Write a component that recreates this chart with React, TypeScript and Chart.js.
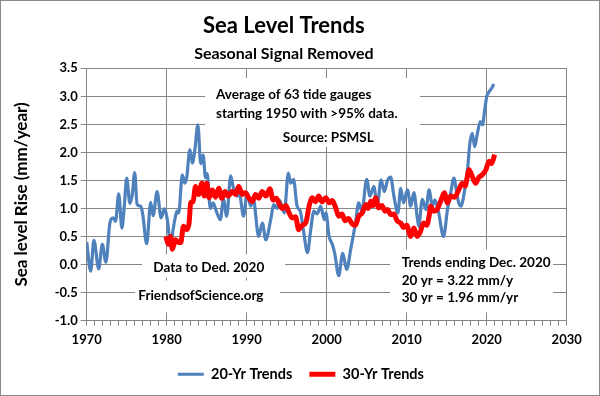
import React, { useEffect, useRef } from 'react';
import { Chart, registerables } from 'chart.js';

Chart.register(...registerables);

// ---- Data ----
const seriesNames = ['20-Yr Trends', '30-Yr Trends'];

const trend20Years = [
  1970.0, 1970.5, 1970.9, 1971.5, 1971.95, 1972.4, 1972.9, 1973.3, 1973.6, 1974.0,
  1974.4, 1974.7, 1975.0, 1975.4, 1975.7, 1976.0, 1976.3, 1976.75, 1977.0, 1977.5,
  1978.0, 1978.3, 1978.8, 1979.3, 1979.7, 1980.1, 1980.5, 1980.8, 1981.1, 1981.3,
  1981.5, 1981.95, 1982.25, 1982.5, 1982.9, 1983.2, 1983.5, 1983.9, 1984.25, 1984.55,
  1984.85, 1985.05, 1985.45, 1985.8, 1986.2, 1986.7, 1987.1, 1987.5, 1988.0, 1988.3,
  1988.75, 1989.1, 1989.6, 1990.05, 1990.5, 1990.8, 1991.5, 1991.95, 1992.4, 1993.0,
  1993.4, 1993.8, 1994.1, 1994.7, 1995.2, 1995.5, 1995.85, 1996.3, 1996.7, 1997.1,
  1997.6, 1998.0, 1998.4, 1998.8, 1999.25, 1999.7, 1999.9, 2000.3, 2000.7, 2001.0,
  2001.5, 2002.0, 2002.5, 2003.0, 2003.6, 2004.0, 2004.4, 2005.0, 2005.4, 2005.9,
  2006.3, 2006.8, 2007.2, 2007.6, 2008.0, 2008.4, 2008.9, 2009.25, 2009.6, 2010.1,
  2010.5, 2010.9, 2011.3, 2011.5, 2011.95, 2012.4, 2012.8, 2013.2, 2013.5, 2014.0,
  2014.6, 2015.1, 2015.5, 2015.9, 2016.25, 2016.5, 2016.8, 2017.1, 2017.6, 2017.9,
  2018.2, 2018.5, 2018.8, 2019.2, 2019.5, 2019.7, 2020.0, 2020.3, 2020.6, 2020.9,
];
const trend20Values = [
  0.40, -0.12, 0.43, -0.08, 0.36, 0.04, 0.74, 0.83, 0.77, 1.26,
  0.65, 1.04, 1.54, 1.09, 1.25, 1.64, 1.07, 1.04, 0.90, 0.37,
  1.11, 0.87, 1.30, 0.83, 0.99, 0.78, 0.33, 0.62, 0.86, 0.95,
  0.92, 1.60, 1.45, 1.55, 2.05, 1.81, 2.02, 2.49, 1.80, 1.95,
  1.55, 1.62, 1.00, 1.10, 0.95, 0.80, 1.16, 0.86, 1.58, 1.39,
  1.22, 1.25, 0.86, 1.28, 1.04, 1.19, 0.50, 0.74, 0.44, 0.80,
  1.07, 1.00, 1.15, 0.92, 1.63, 1.45, 1.52, 1.04, 0.95, 0.60,
  0.21, 0.62, 0.95, 0.90, 1.04, 0.80, 0.92, 0.50, 0.36, 0.20,
  -0.20, 0.20, -0.09, 0.27, 0.74, 1.10, 0.95, 1.52, 1.22, 1.39,
  1.04, 1.51, 1.30, 1.50, 1.56, 1.22, 0.92, 1.36, 1.10, 1.33,
  1.04, 1.28, 0.86, 0.68, 1.16, 0.98, 1.33, 1.04, 1.15, 0.92,
  0.50, 0.98, 1.28, 1.54, 1.28, 1.10, 1.04, 1.20, 1.69, 2.17,
  2.34, 2.10, 2.31, 2.55, 2.49, 2.70, 2.99, 3.08, 3.14, 3.22,
];

const trend30Years = [
  1979.9, 1980.2, 1980.5, 1980.7, 1981.1, 1981.4, 1981.75, 1982.1, 1982.5, 1982.8,
  1983.0, 1983.3, 1983.6, 1984.0, 1984.4, 1984.7, 1985.0, 1985.3, 1985.7, 1986.1,
  1986.5, 1986.9, 1987.3, 1987.7, 1988.2, 1988.6, 1989.0, 1989.45, 1989.8, 1990.3,
  1990.7, 1991.1, 1991.5, 1991.95, 1992.4, 1992.9, 1993.3, 1993.7, 1994.0, 1994.45,
  1994.9, 1995.3, 1995.7, 1996.1, 1996.5, 1996.95, 1997.4, 1997.8, 1998.2, 1998.6,
  1999.0, 1999.4, 1999.9, 2000.3, 2000.7, 2001.1, 2001.5, 2001.9, 2002.3, 2002.7,
  2003.2, 2003.6, 2004.0, 2004.45, 2004.9, 2005.2, 2005.5, 2005.8, 2006.1, 2006.5,
  2006.9, 2007.3, 2007.6, 2008.0, 2008.4, 2008.8, 2009.25, 2009.6, 2010.0, 2010.5,
  2010.9, 2011.3, 2011.7, 2012.1, 2012.5, 2012.8, 2013.0, 2013.4, 2013.8, 2014.25,
  2014.7, 2015.1, 2015.5, 2016.0, 2016.5, 2016.95, 2017.3, 2017.8, 2018.2, 2018.6,
  2019.0, 2019.45, 2019.9, 2020.3, 2020.6, 2021.0,
];
const trend30Values = [
  0.50, 0.36, 0.50, 0.27, 0.44, 0.40, 0.39, 0.68, 0.62, 0.74,
  1.10, 1.12, 1.39, 1.25, 1.45, 1.22, 1.45, 1.19, 1.33, 1.20,
  1.36, 1.18, 1.30, 1.22, 1.30, 1.25, 1.39, 1.25, 1.28, 1.18,
  1.12, 1.25, 1.18, 1.30, 1.22, 1.35, 1.15, 1.18, 1.10, 1.00,
  1.05, 0.92, 0.83, 0.85, 0.62, 0.70, 0.75, 1.04, 1.19, 1.12,
  1.22, 1.12, 1.19, 1.10, 1.14, 1.02, 0.86, 0.90, 0.78, 0.82,
  0.72, 0.70, 0.86, 0.92, 1.07, 1.00, 1.13, 1.05, 1.19, 1.01,
  1.05, 0.95, 0.98, 0.89, 0.90, 0.78, 0.74, 0.66, 0.70, 0.50,
  0.65, 0.50, 0.58, 0.74, 0.70, 0.86, 1.04, 0.95, 0.98, 1.13,
  1.28, 1.10, 1.22, 1.20, 1.33, 1.45, 1.40, 1.69, 1.57, 1.45,
  1.55, 1.60, 1.69, 1.84, 1.80, 1.96,
];

const xMin = 1970;
const xMax = 2030;
const yMin = -1.0;
const yMax = 3.5;

const titleText = 'Sea Level Trends';
const subtitleText = 'Seasonal Signal Removed';
const yAxisTitle = 'Sea level Rise (mm/year)';

// Annotation texts: [text, x (year), y (mm/yr), align]
const noteTexts: [string, number, number, CanvasTextAlign][] = [
  ['Average of 63 tide gauges', 1986.16, 3.025, 'left'],
  ['starting 1950 with >95% data.', 1986.16, 2.699, 'left'],
  ['Source: PSMSL', 2000.2, 2.254, 'center'],
  ['Data to Ded. 2020', 1978.33, -0.048, 'left'],
  ['FriendsofScience.org', 1976.45, -0.564, 'left'],
  ['Trends ending Dec. 2020', 2009.375, 0.030, 'left'],
  ['20 yr = 3.22 mm/y', 2009.375, -0.285, 'left'],
  ['30 yr = 1.96 mm/yr', 2009.375, -0.593, 'left'],
];
// White text-box backgrounds: [x0, x1, yTop, yBottom] in data units
const noteBoxes: [number, number, number, number][] = [
  [1984.79, 2011.66, 3.327, 2.438],
  [1992.9, 2007.4, 2.438, 2.10],
  [1976.91, 1994.79, 0.177, -0.232],
  [1976.04, 1994.16, -0.285, -0.854],
  [2007.91, 2028.29, 0.267, -0.854],
];

const FONT = "Lato, 'Liberation Sans', sans-serif";
const GRID = '#868686';
const BLUE = '#4F81BD';
const RED = '#FF0000';
const LEGEND_SHIFT = 17;

const notesPlugin = {
  id: 'notes',
  afterLayout(chart: any) {
    // Centre the legend under the whole picture rather than the padded box.
    if (chart.legend) {
      chart.legend.left += LEGEND_SHIFT;
      chart.legend.right += LEGEND_SHIFT;
    }
  },
  beforeDatasetsDraw(chart: any) {
    const { ctx } = chart;
    const xs = chart.scales.x;
    const ys = chart.scales.y;
    ctx.save();
    ctx.fillStyle = '#ffffff';
    for (const b of noteBoxes) {
      const x0 = xs.getPixelForValue(b[0]);
      const x1 = xs.getPixelForValue(b[1]);
      const y0 = ys.getPixelForValue(b[2]);
      const y1 = ys.getPixelForValue(b[3]);
      ctx.fillRect(x0, y0, x1 - x0, y1 - y0);
    }
    ctx.fillStyle = '#000000';
    ctx.font = `bold 13.5px ${FONT}`;
    ctx.textBaseline = 'middle';
    for (const t of noteTexts) {
      ctx.textAlign = t[3];
      ctx.fillText(t[0], xs.getPixelForValue(t[1]), ys.getPixelForValue(t[2]));
    }
    ctx.restore();
  },
};

export default function App() {
  const canvasRef = useRef<HTMLCanvasElement | null>(null);

  useEffect(() => {
    document.body.style.margin = '0';
    const canvas = canvasRef.current;
    if (!canvas) return;

    const chart = new Chart(canvas, {
      type: 'line',
      data: {
        datasets: [
          {
            label: seriesNames[0],
            data: trend20Years.map((yr, i) => ({ x: yr, y: trend20Values[i] })),
            borderColor: BLUE,
            backgroundColor: BLUE,
            borderWidth: 3.2,
            pointRadius: 0,
            cubicInterpolationMode: 'monotone',
            order: 1,
          },
          {
            label: seriesNames[1],
            data: trend30Years.map((yr, i) => ({ x: yr, y: trend30Values[i] })),
            borderColor: RED,
            backgroundColor: RED,
            borderWidth: 5,
            pointRadius: 0,
            cubicInterpolationMode: 'monotone',
            order: 0,
          },
        ],
      },
      options: {
        animation: false,
        responsive: false,
        devicePixelRatio: 1,
        layout: { padding: { top: 0, right: 32.3, bottom: 3.5, left: 0 } },
        plugins: {
          title: {
            display: true,
            text: titleText,
            color: '#000',
            font: { family: FONT, size: 22, weight: 'bold' },
            padding: { top: 11.8, bottom: 5.2 },
          },
          subtitle: {
            display: true,
            text: subtitleText,
            color: '#000',
            font: { family: FONT, size: 16, weight: 'bold' },
            padding: { top: 0, bottom: 4.7 },
          },
          legend: {
            position: 'bottom',
            labels: {
              usePointStyle: true,
              pointStyle: 'line',
              pointStyleWidth: 26,
              color: '#000',
              font: { family: FONT, size: 14.5, weight: 'bold' },
              padding: 17,
              sort: (a: any, b: any) => a.datasetIndex - b.datasetIndex,
            },
          },
          tooltip: { enabled: false },
        },
        scales: {
          x: {
            type: 'linear',
            min: xMin,
            max: xMax,
            afterFit: (s: any) => { s.height = 29.5; },
            ticks: {
              stepSize: 1,
              autoSkip: false,
              maxRotation: 0,
              padding: 7,
              color: '#000',
              font: { family: FONT, size: 13, weight: 'bold' },
              callback: (v: any) => (Math.round(Number(v)) % 10 === 0 ? String(Math.round(Number(v))) : ''),
            },
            grid: {
              color: (c: any) => (c.tick && Math.round(c.tick.value) % 10 === 0 ? GRID : 'rgba(0,0,0,0)'),
              tickColor: GRID,
              tickLength: 5,
              lineWidth: 1,
            },
            border: { color: GRID, width: 1 },
          },
          y: {
            type: 'linear',
            min: yMin,
            max: yMax,
            afterFit: (s: any) => { s.width = 85.7; },
            ticks: {
              stepSize: 0.5,
              padding: 3,
              color: '#000',
              font: { family: FONT, size: 13, weight: 'bold' },
              callback: (v: any) => Number(v).toFixed(1),
            },
            grid: { color: GRID, tickColor: GRID, tickLength: 6, lineWidth: 1 },
            border: { color: GRID, width: 1 },
            title: {
              display: true,
              text: yAxisTitle,
              color: '#000',
              font: { family: FONT, size: 17, weight: 'bold' },
              padding: { top: 10, bottom: 0 },
            },
          },
        },
      },
      plugins: [notesPlugin],
    } as any);

    return () => chart.destroy();
  }, []);

  return (
    <div
      style={{
        width: 600,
        height: 396,
        boxSizing: 'border-box',
        border: '1px solid #888888',
        background: '#ffffff',
      }}
    >
      <canvas ref={canvasRef} width={598} height={394} style={{ display: 'block' }} />
    </div>
  );
}
